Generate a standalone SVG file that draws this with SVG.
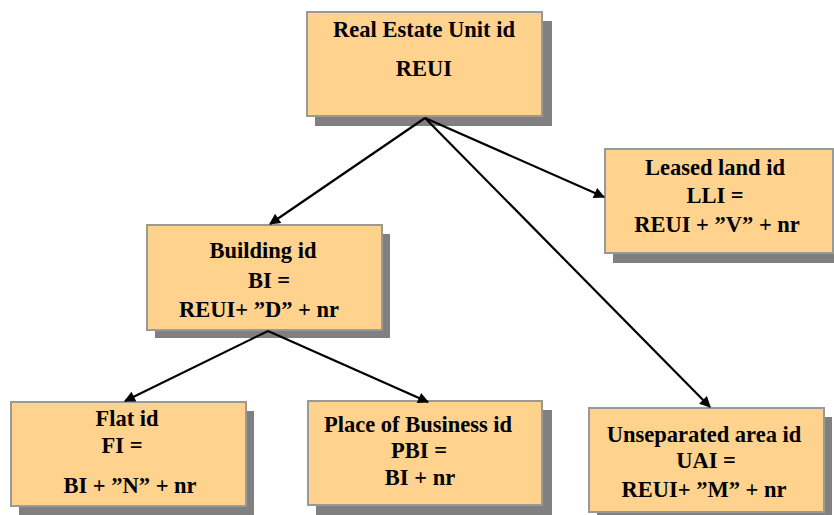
<svg xmlns="http://www.w3.org/2000/svg" width="834" height="515" viewBox="0 0 834 515">
<style>
.sh{fill:#808080}
.bx{fill:#FFD28E;stroke:#999;stroke-width:2}
text{font-family:"Liberation Serif","Times New Roman",serif;font-weight:bold;font-size:22.5px;fill:#000;text-anchor:middle}
.ln{stroke:#000;stroke-width:2.2;fill:none;marker-end:url(#ah)}
</style>
<defs>
<marker id="ah" viewBox="0 0 10 10" refX="9" refY="5" markerWidth="15" markerHeight="11" markerUnits="userSpaceOnUse" orient="auto">
<path d="M0,0 L10,5 L0,10 z" fill="#000"/>
</marker>
</defs>
<rect width="834" height="515" fill="#fff"/>
<g id="reui">
<rect class="sh" x="315" y="21" width="237" height="105"/>
<rect class="bx" x="307" y="12" width="235" height="104"/>
<text x="424" y="37">Real Estate Unit id</text>
<text x="424" y="76">REUI</text>
</g>
<g id="building">
<rect class="sh" x="155" y="234" width="235" height="104"/>
<rect class="bx" x="147" y="225" width="235" height="105"/>
<text x="263" y="258">Building id</text>
<text x="269" y="288">BI =</text>
<text x="259" y="317">REUI+ ”D” + nr</text>
</g>
<g id="leased">
<rect class="sh" x="613" y="158" width="228" height="105"/>
<rect class="bx" x="605" y="149" width="228" height="104"/>
<text x="715" y="175">Leased land id</text>
<text x="715" y="203">LLI =</text>
<text x="717" y="232">REUI + ”V” + nr</text>
</g>
<g id="flat">
<rect class="sh" x="19" y="411" width="235" height="104"/>
<rect class="bx" x="11" y="402" width="235" height="104"/>
<text x="127" y="426">Flat id</text>
<text x="122" y="453">FI =</text>
<text x="130" y="493">BI + ”N” + nr</text>
</g>
<g id="place">
<rect class="sh" x="316" y="410" width="236" height="105"/>
<rect class="bx" x="308" y="401" width="234" height="104"/>
<text x="418" y="432">Place of Business id</text>
<text x="419" y="458">PBI =</text>
<text x="420" y="485">BI + nr</text>
</g>
<g id="unseparated">
<rect class="sh" x="597" y="417" width="235" height="104"/>
<rect class="bx" x="589" y="408" width="235" height="104"/>
<text x="704" y="442">Unseparated area id</text>
<text x="706" y="468">UAI =</text>
<text x="704" y="497">REUI+ ”M” + nr</text>
</g>
<g id="connectors">
<line class="ln" x1="425" y1="118" x2="270" y2="224"/>
<line class="ln" x1="425" y1="118" x2="604" y2="197"/>
<line class="ln" x1="425" y1="118" x2="710" y2="407"/>
<line class="ln" x1="268" y1="331" x2="125" y2="401"/>
<line class="ln" x1="268" y1="331" x2="428" y2="402"/>
</g>
</svg>
